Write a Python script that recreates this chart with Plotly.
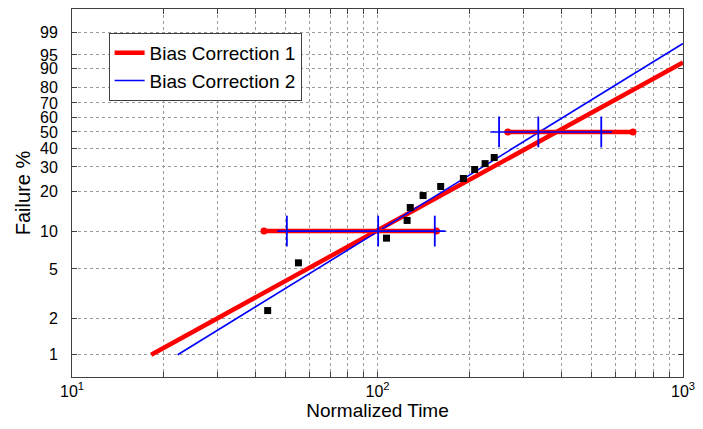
import numpy as np
import plotly.graph_objects as go

# Observed failures (time, median-rank failure %)
fail_time = [43.7, 55.1, 107, 125, 128, 141, 161, 191, 208, 225, 241]
fail_pct = [2.3, 5.6, 8.8, 12.1, 15.2, 18.7, 21.8, 24.9, 28.8, 31.6, 34.7]

# Weibull fits for the two bias-correction methods
fit_names = ["Bias Correction 1", "Bias Correction 2"]
fit_eta = [502.0, 429.0]
fit_beta = [1.386, 1.553]

# Confidence bounds on time at fixed failure percentages
bound_pct = [10, 50]
red_lo = [42.5, 267]
red_hi = [156, 686]
blue_line_lo = [47, 234]
blue_line_hi = [167, 586]
blue_lo = [50.5, 250]
blue_mid = [100.5, 336]
blue_hi = [154, 540]

# Axis ticks
y_ticks_pct = [1, 2, 5, 10, 20, 30, 40, 50, 60, 70, 80, 90, 95, 99]
x_tick_vals = [10, 20, 30, 40, 50, 60, 70, 80, 90,
               100, 200, 300, 400, 500, 600, 700, 800, 900, 1000]
x_major = {10: "10<sup>1</sup>", 100: "10<sup>2</sup>", 1000: "10<sup>3</sup>"}

X_MIN, X_MAX = 10, 1000
Y_RANGE = [-5.023, 1.970]

FONT = "Liberation Sans, Arial"


def wbl(p):
    """Weibull probability-paper transform of a failure percentage."""
    p = np.asarray(p, dtype=float) / 100.0
    return np.log(-np.log(1.0 - p))


def fit_line(eta, beta):
    x_start = eta * (-np.log(0.99)) ** (1.0 / beta)
    xs = np.array([x_start, X_MAX])
    ys = beta * (np.log(xs) - np.log(eta))
    return xs, ys


RED = "#ff0000"
BLUE = "#0000ff"

fig = go.Figure()

# Fitted lines
for name, eta, beta, color, width in zip(fit_names, fit_eta, fit_beta,
                                         [RED, BLUE], [4.5, 1.6]):
    xs, ys = fit_line(eta, beta)
    fig.add_trace(go.Scatter(x=xs, y=ys, mode="lines", name=name,
                             line=dict(color=color, width=width)))

# Red bounds: thick bar with round end points
for pct, lo, hi in zip(bound_pct, red_lo, red_hi):
    v = float(wbl(pct))
    fig.add_trace(go.Scatter(x=[lo, hi], y=[v, v], mode="lines+markers",
                             line=dict(color=RED, width=4.5),
                             marker=dict(color=RED, size=7, symbol="circle"),
                             showlegend=False))

# Blue bounds: thin bar with vertical tick marks
for pct, llo, lhi, lo, mid, hi in zip(bound_pct, blue_line_lo, blue_line_hi,
                                      blue_lo, blue_mid, blue_hi):
    v = float(wbl(pct))
    fig.add_trace(go.Scatter(x=[llo, lhi], y=[v, v], mode="lines",
                             line=dict(color=BLUE, width=1.6),
                             showlegend=False))
    fig.add_trace(go.Scatter(x=[lo, mid, hi], y=[v, v, v], mode="markers",
                             marker=dict(symbol="line-ns", size=22,
                                         line=dict(color=BLUE, width=1.8)),
                             showlegend=False))

# Failure data
fig.add_trace(go.Scatter(x=fail_time, y=wbl(fail_pct), mode="markers",
                         marker=dict(symbol="square", size=7, color="black"),
                         showlegend=False))

grid = dict(showgrid=True, gridcolor="#9a9a9a", gridwidth=1, griddash="dot")
frame = dict(showline=True, linecolor="#404040", linewidth=1, mirror="ticks",
             ticks="inside", ticklen=5, tickcolor="#404040", zeroline=False)

fig.update_xaxes(type="log", range=[np.log10(X_MIN), np.log10(X_MAX)],
                 tickmode="array", tickvals=x_tick_vals,
                 ticktext=[x_major.get(v, "") for v in x_tick_vals],
                 tickfont=dict(family=FONT, size=16, color="black"),
                 title=dict(text="Normalized Time", standoff=2,
                            font=dict(family=FONT, size=19, color="black")),
                 **grid, **frame)

fig.update_yaxes(range=Y_RANGE, tickmode="array",
                 tickvals=wbl(y_ticks_pct), ticktext=[str(p) for p in y_ticks_pct],
                 tickfont=dict(family=FONT, size=16, color="black"),
                 ticklabelstandoff=10,
                 title=dict(text="Failure %", standoff=4,
                            font=dict(family=FONT, size=20, color="black")),
                 **grid, **frame)

fig.update_layout(
    width=703, height=429,
    margin=dict(l=72, r=13, t=8, b=52),
    paper_bgcolor="white", plot_bgcolor="white",
    showlegend=True,
    legend=dict(x=0.0599, y=0.935, xanchor="left", yanchor="top",
                bgcolor="white", bordercolor="#404040", borderwidth=1,
                entrywidthmode="pixels", entrywidth=175,
                font=dict(family=FONT, size=19, color="black")),
)

fig.write_html("out.html")
